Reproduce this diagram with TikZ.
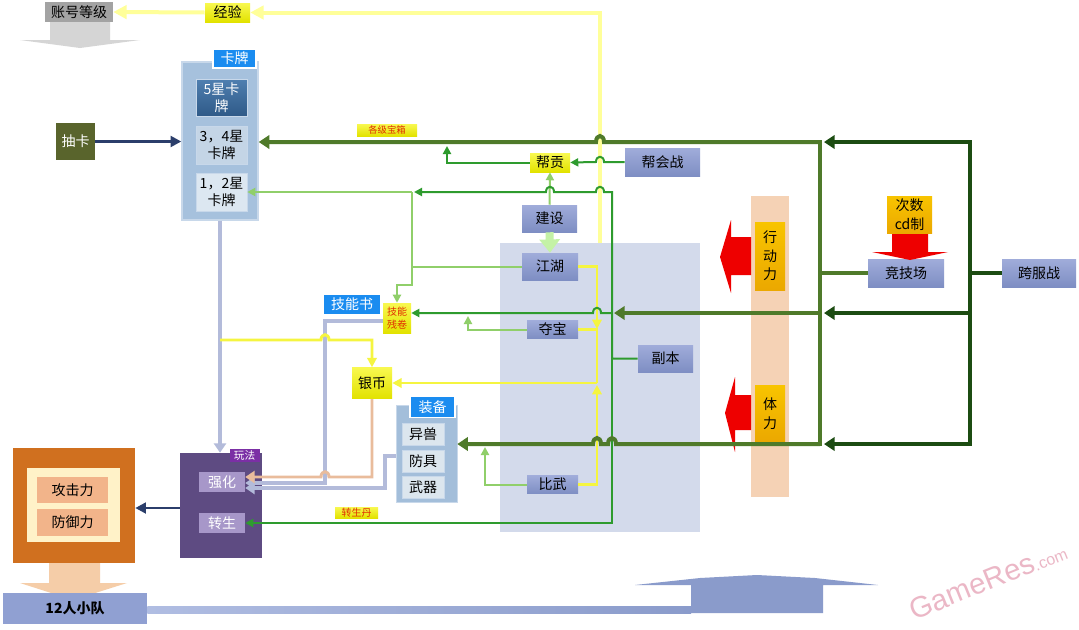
\documentclass[tikz,border=0pt]{standalone}
\usepackage{fontspec}
\setmainfont{Noto Sans CJK SC}
\newfontfamily\wmfont{Liberation Sans}
\usetikzlibrary{arrows.meta}
\definecolor{cOliveL}{HTML}{4F7A2A}
\definecolor{cDk}{HTML}{1C4C12}
\definecolor{cGreenL}{HTML}{2E9B2E}
\definecolor{cLGreen}{HTML}{90CF6A}
\definecolor{cLGreenW}{HTML}{C4F2A6}
\definecolor{cYel}{HTML}{F5F540}
\definecolor{cPYel}{HTML}{FFFF99}
\definecolor{cLav}{HTML}{B3BBDA}
\definecolor{cPeach}{HTML}{E9BC9C}
\definecolor{cNavy}{HTML}{2B3E6B}
\definecolor{cFb}{HTML}{D3DAEB}
\definecolor{cPink}{HTML}{F5D2B5}
\definecolor{cCard}{HTML}{A6C1DD}
\definecolor{cCardB}{HTML}{C8D8EA}
\definecolor{cCfiveT}{HTML}{4F7FB0}
\definecolor{cCfiveB}{HTML}{2F5A88}
\definecolor{cCtf}{HTML}{C4D5E6}
\definecolor{cCot}{HTML}{DCE7F1}
\definecolor{cChou}{HTML}{59642C}
\definecolor{cBlue}{HTML}{1A8CF0}
\definecolor{cBGt}{HTML}{A0ACDA}
\definecolor{cBGb}{HTML}{7E8EC3}
\definecolor{cYt}{HTML}{F8F850}
\definecolor{cYb}{HTML}{E2E200}
\definecolor{cOrt}{HTML}{F8C400}
\definecolor{cOrb}{HTML}{EBA800}
\definecolor{cRed}{HTML}{EE0000}
\definecolor{cPlay}{HTML}{5E4B82}
\definecolor{cPlayL}{HTML}{7B2FA5}
\definecolor{cQh}{HTML}{A797C9}
\definecolor{cOrange}{HTML}{D0701F}
\definecolor{cCream}{HTML}{FFF2C8}
\definecolor{cAtk}{HTML}{F2B48A}
\definecolor{cTeam}{HTML}{90A0D2}
\definecolor{cBar}{HTML}{8A9BCB}
\definecolor{cBarL}{HTML}{B0BDE2}
\definecolor{cGrayA}{HTML}{D5D5D5}
\definecolor{cGrayBox}{HTML}{A3A3A3}
\definecolor{cPeachA}{HTML}{F5CDA8}
\definecolor{cEq}{HTML}{A3BEDA}
\definecolor{cEqI}{HTML}{DCE6EE}
\definecolor{cWM}{HTML}{EBB7C6}
\definecolor{cRedT}{HTML}{E03000}
\begin{document}
\begin{tikzpicture}[x=0.75pt,y=-0.75pt,
  every node/.style={inner sep=0pt, align=center, font=\fontsize{10.5}{13}\selectfont},
  wh/.style 2 args={minimum width=#1*0.75pt, minimum height=#2*0.75pt},
  bgbox/.style={top color=cBGt, bottom color=cBGb},
  ybox/.style={top color=cYt, bottom color=cYb},
  obox/.style={top color=cOrt, bottom color=cOrb},
  blbl/.style={fill=cBlue, draw=white, line width=0.8pt, text=white},
  small/.style={font=\fontsize{7}{8.5}\selectfont, text=cRedT},
  cardf/.style={font=\fontsize{10.5}{12.5}\selectfont},
  oliveL/.style={draw=cOliveL, line width=3pt},
  dkL/.style={draw=cDk, line width=3pt},
  greenL/.style={draw=cGreenL, line width=1.5pt},
  lgreenL/.style={draw=cLGreen, line width=1.5pt},
  yelL/.style={draw=cYel, line width=2.2pt},
  pyelL/.style={draw=cPYel, line width=3pt},
  lavL/.style={draw=cLav, line width=2.6pt},
  peachL/.style={draw=cPeach, line width=2.2pt},
  navyL/.style={draw=cNavy, line width=2.2pt},
  tipO/.style={-{Triangle[length=8pt,width=10pt]}},
  tipG/.style={-{Triangle[length=6pt,width=6pt]}},
  tipY/.style={-{Triangle[length=7pt,width=7pt]}},
  tipPY/.style={-{Triangle[length=10pt,width=10pt]}},
  tipL/.style={-{Triangle[length=7pt,width=9pt]}},
  tipN/.style={-{Triangle[length=8pt,width=8pt]}}]
\useasboundingbox (0,0) rectangle (1079,629);
\fill[white] (0,0) rectangle (1079,629);

% ---------- background regions ----------
\node[fill=cFb, wh={200}{289}] (fbzone) at (600,387.5) {};
\node[fill=cPink, wh={38}{301}] (bar) at (770,346.5) {};

% ---------- top left ----------
\fill[cGrayA] (50,22) -- (110,22) -- (110,40) -- (140,40) -- (80,48) -- (20,40) -- (50,40) -- cycle;
\node[fill=cGrayBox, wh={68}{20}] (acct) at (79,12) {账号等级};
\node[ybox, wh={45}{19}] (exp) at (227.5,12.5) {经验};

% ---------- cards ----------
\node[fill=cCard, draw=cCardB, line width=1pt, wh={76}{158}] (cards) at (220,141) {};
\node[blbl, wh={43}{19}] (cardlbl) at (234.5,58.5) {卡牌};
\node[top color=cCfiveT, bottom color=cCfiveB, draw=cCardB, text=white, cardf, wh={51}{37}] (c5) at (221.5,97.5) {5星卡\\牌};
\node[fill=cCtf, draw=cCardB, cardf, wh={51}{38}] (c34) at (221.5,145) {3，4星\\卡牌};
\node[fill=cCot, draw=cCardB, cardf, wh={51}{38}] (c12) at (221.5,192) {1，2星\\卡牌};
\node[fill=cChou, text=white, wh={39}{37}] (chou) at (75.5,141.5) {抽卡};
\node[ybox, small, wh={60}{12}] (boxlbl) at (387,130) {各级宝箱};

% ---------- middle ----------
\node[blbl, wh={58}{21}] (skill) at (352,304.5) {技能书};
\node[ybox, small, font=\fontsize{7.5}{10}\selectfont, wh={28}{30}] (scroll) at (397,318) {技能\\残卷};
\node[ybox, wh={40}{31}] (silver) at (372,383) {银币};
\node[fill=cEq, draw=cCardB, wh={61}{97}] (equip) at (426.5,453.5) {};
\node[blbl, wh={45}{21}] (equiplbl) at (432.5,407) {装备};
\node[fill=cEqI, draw=cCardB, wh={42}{22}] (beast) at (423,434) {异兽};
\node[fill=cEqI, draw=cCardB, wh={42}{22}] (armor) at (423,461) {防具};
\node[fill=cEqI, draw=cCardB, wh={42}{22}] (weapon) at (423,487.5) {武器};

% ---------- play ----------
\node[fill=cPlay, wh={82}{105}] (play) at (221,505.5) {};
\node[fill=cPlayL, text=white, font=\fontsize{8}{9}\selectfont, wh={30}{13}] (playlbl) at (244.5,455.5) {玩法};
\node[fill=cQh, text=white, wh={46}{20}] (qh) at (222,482) {强化};
\node[fill=cQh, text=white, wh={46}{20}] (zs) at (222,523) {转生};
\node[ybox, small, font=\fontsize{7.5}{9}\selectfont, wh={43}{11}] (zsd) at (356.5,512.5) {转生丹};

% ---------- attributes ----------
\fill[cPeachA] (49,560) -- (100,560) -- (100,583) -- (127,583) -- (73,600) -- (20,583) -- (49,583) -- cycle;
\node[fill=cOrange, wh={122}{115}] (attr) at (74,505.5) {};
\node[fill=cCream, wh={93}{74}] (attrin) at (73.5,505) {};
\node[fill=cAtk, wh={71}{26}] (atk) at (72.5,490) {攻击力};
\node[fill=cAtk, wh={71}{27}] (def) at (72.5,522.5) {防御力};
\node[fill=cTeam, font=\fontsize{10.5}{13}\selectfont\bfseries, wh={144}{31}] (team) at (75,608.5) {12人小队};

% ---------- bottom bar ----------
\shade[left color=cBarL, right color=cBar] (team.east |- 0,606) rectangle (691,613);
\fill[cBar] (691,613) -- (691,585) -- (635,585) -- (700,578) -- (757,575) -- (815,578) -- (878,585) -- (823,585) -- (823,613) -- cycle;

% ---------- right side ----------
\node[bgbox, wh={75}{28}] (gang) at (662.5,162) {帮会战};
\node[ybox, wh={40}{19}] (gc) at (550,162.5) {帮贡};
\node[bgbox, wh={55}{27}] (build) at (549.5,218.5) {建设};
\node[bgbox, wh={56}{27}] (jh) at (550,266.5) {江湖};
\node[bgbox, wh={51}{18}] (db) at (552.5,329.5) {夺宝};
\node[bgbox, wh={51}{18}] (bw) at (552.5,484.5) {比武};
\node[bgbox, wh={55}{27}] (fb) at (665.5,358.5) {副本};
\node[bgbox, wh={76}{28}] (arena) at (906,273) {竞技场};
\node[bgbox, wh={74}{28}] (cross) at (1039,273) {跨服战};
\fill[cRed] (892,233) -- (928,233) -- (928,252) -- (948,252) -- (910,260) -- (872,252) -- (892,252) -- cycle;
\node[obox, wh={45}{37}, font=\fontsize{10.5}{14}\selectfont] (cd) at (909.5,214.5) {次数\\cd制};
\fill[cRed] (751,237) -- (751,275) -- (731,275) -- (731,293) -- (720,257) -- (731,220) -- (731,237) -- cycle;
\fill[cRed] (751,395) -- (751,430) -- (735,430) -- (735,452) -- (725,413) -- (735,377) -- (735,395) -- cycle;
\node[obox, wh={30}{68}, font=\fontsize{10.5}{14}\selectfont] (xdl) at (770,256) {行\\动\\力};
\node[obox, wh={30}{57}, font=\fontsize{10.5}{14}\selectfont] (tl) at (770,413.5) {体\\力};

\node[text=cWM, rotate=22, font=\wmfont\fontsize{22}{22}\selectfont] (wm) at (988,580) {GameRes{\fontsize{12}{12}\selectfont.com}};

% ---------- junction coordinates ----------
\coordinate (a1) at (820,142);
\coordinate (a2) at (970,142);
\coordinate (b1) at (820,313);
\coordinate (b2) at (970,313);
\coordinate (c1) at (820,444);
\coordinate (c2) at (970,444);
\coordinate (gx) at (612,358.5);
\coordinate (lj) at (412,192);
\coordinate (yj) at (597,383);

% ---------- vertical lines first ----------
\draw[pyelL,tipPY] (fbzone.north -| 600,0) -- (600,12.5) -- (exp.east);
\draw[pyelL,tipPY] (exp.west) -- (acct.east);
\draw[yelL,tipY] (jh.east) -- (597,266.5) -- (597,329);
\draw[yelL] (db.east) -- (597,329.5) -- (yj);
\draw[yelL,tipY] (bw.east) -- (597,484.5) -- (597,385);
\draw[yelL,tipY] (yj) -- (silver.east);
\draw[lavL,tipL] (cards.south) -- (cards.south |- play.north);
\draw[lavL,tipL] (383,321) -- (325,321) -- (325,483) -- (qh.east |- 0,483);
\draw[lavL,tipL] (equip.west |- 0,456) -- (385,456) -- (385,488) -- (qh.east |- 0,488);
\draw[yelL,tipY] (220,340) -- (321,340) .. controls (321,333) and (329,333) .. (329,340) -- (372,340) -- (silver.north);
\draw[peachL,tipL] (silver.south) -- (372,477) -- (329,477) .. controls (329,470) and (321,470) .. (321,477) -- (qh.east |- 0,477);

% ---------- greens ----------
\draw[lgreenL,tipG] (lj) -- (c12.east);
\draw[lgreenL] (jh.west) -- (412,266.5);
\draw[lgreenL,tipG] (lj) -- (412,285) -- (397,285) -- (scroll.north);
\draw[lgreenL,tipG] (build.north) -- (gc.south);
\draw[draw=cLGreenW, line width=6pt, -{Triangle[length=10pt,width=15pt]}] (build.south) -- (jh.north);
\draw[lgreenL,tipG] (db.west) -- (468,329.5) -- (468,316);
\draw[lgreenL,tipG] (bw.west) -- (485,484.5) -- (485,447);

\draw[greenL,tipG] (fb.west) -- (gx) -- (612,192) -- (604,192) .. controls (604,185) and (596,185) .. (596,192) -- (554,192) .. controls (554,185) and (546,185) .. (546,192) -- (414,192);
\draw[greenL,tipG] (gx) -- (612,523) -- (zs.east);
\draw[greenL,tipG] (gang.west) -- (604,162) .. controls (604,155) and (596,155) .. (596,162) -- (gc.east);
\draw[greenL,tipG] (gc.west) -- (447,162.5) -- (447,146);
\draw[greenL,tipG] (612,313) -- (601,313) .. controls (601,306) and (593,306) .. (593,313) -- (scroll.east |- b1);

% ---------- olive / dark green ----------
\draw[oliveL, line cap=rect] (a1) -- (c1);
\draw[oliveL] (arena.west) -- (arena.west -| a1);
\draw[dkL, line cap=rect] (a2) -- (c2);
\draw[dkL] (cross.west) -- (cross.west -| a2);
\draw[dkL,tipO] (a2) -- (824,142);
\draw[dkL,tipO] (b2) -- (824,313);
\draw[dkL,tipO] (c2) -- (824,444);
\draw[oliveL,tipO] (a1) -- (604,142) .. controls (604,134) and (596,134) .. (596,142) -- (cards.east |- a1);
\draw[oliveL,tipO] (b1) -- (614,313);
\draw[oliveL,tipO] (c1) -- (616,444) .. controls (616,436) and (608,436) .. (608,444) -- (601,444) .. controls (601,436) and (593,436) .. (593,444) -- (equip.east |- c1);

% ---------- navy ----------
\draw[navyL,tipN] (chou.east) -- (cards.west |- chou.east);
\draw[navyL,tipN] (play.west |- 0,508) -- (attr.east |- 0,508);
\end{tikzpicture}
\end{document}
